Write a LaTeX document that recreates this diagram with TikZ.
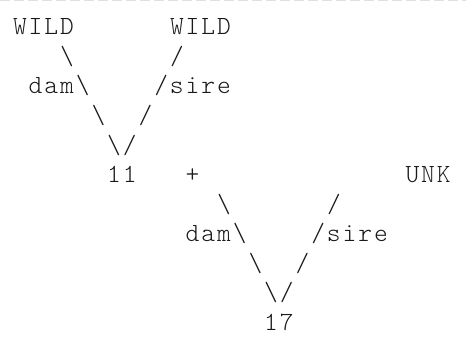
\documentclass[tikz,border=0pt]{standalone}
\usepackage{fontspec}
\newfontfamily\asciifont{lmmonolt10-regular.otf}[LetterSpace=7.4]
\tikzset{
  asc/.style={anchor=base west, inner sep=0pt, outer sep=0pt,
    font=\asciifont\fontsize{26.2}{29.5}\selectfont, text=black!90},
  topedge/.style={draw=black!12, line width=1.5pt, dash pattern=on 10pt off 4pt}
}
\newcommand{\tok}[4]{\node[asc] (#1) at ({13+#2*15.7},{314-#3*29.5}) {#4};}
\newcommand{\bs}{\textbackslash}
\begin{document}
\begin{tikzpicture}[x=1pt,y=1pt]
\useasboundingbox (0,0) rectangle (466,349);
\coordinate (tl) at (0,348.5);
\coordinate (tr) at (466,348.5);
\draw[topedge] (tl) -- (tr);
% first tree
\tok{w1}{0}{0}{WILD}
\tok{w2}{10}{0}{WILD}
\tok{a1}{3}{1}{\bs}
\tok{a2}{10}{1}{/}
\tok{d1}{1}{2}{dam\bs}
\tok{s1}{9}{2}{/sire}
\tok{b1}{5}{3}{\bs}
\tok{b2}{8}{3}{/}
\tok{c1}{6}{4}{\bs/}
\tok{n11}{6}{5}{11}
\tok{plus}{11}{5}{+}
\tok{unk}{25}{5}{UNK}
% second tree
\tok{e1}{13}{6}{\bs}
\tok{e2}{20}{6}{/}
\tok{d2}{11}{7}{dam\bs}
\tok{s2}{19}{7}{/sire}
\tok{f1}{15}{8}{\bs}
\tok{f2}{18}{8}{/}
\tok{g1}{16}{9}{\bs/}
\tok{n17}{16}{10}{17}
\end{tikzpicture}
\end{document}
